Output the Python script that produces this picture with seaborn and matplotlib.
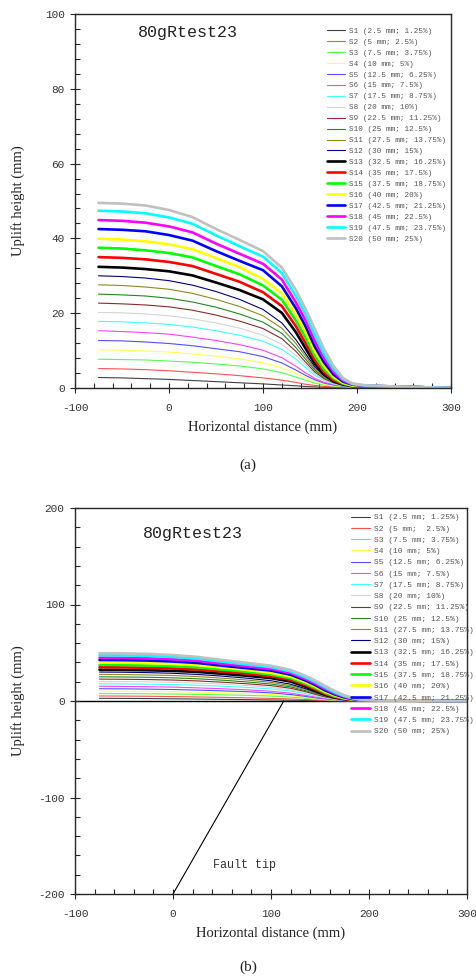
import matplotlib
matplotlib.use("Agg")
import matplotlib.pyplot as plt
from matplotlib.ticker import MultipleLocator
import seaborn as sns

# 量測位置 (mm)
x_pos = [-75, -50, -25, 0, 25, 50, 75, 100, 120, 135, 145, 155, 165, 175, 185, 195, 210, 240, 270, 300]

# 各階段抬升剖面 (mm)
s1 = [2.8, 2.7, 2.5, 2.3, 2.0, 1.7, 1.4, 1.1, 0.8, 0.6, 0.4, 0.3, 0.2, 0.2, 0.1, 0.1, 0.1, 0.1, 0.0, 0.0]
s2 = [5.2, 5.1, 4.9, 4.6, 4.2, 3.8, 3.3, 2.7, 2.1, 1.5, 1.0, 0.7, 0.4, 0.3, 0.2, 0.2, 0.2, 0.1, 0.1, 0.0]
s3 = [7.7, 7.6, 7.5, 7.2, 6.9, 6.4, 5.9, 5.1, 4.1, 2.9, 2.1, 1.3, 0.8, 0.5, 0.3, 0.2, 0.2, 0.1, 0.1, 0.0]
s4 = [10.2, 10.1, 9.9, 9.6, 9.1, 8.5, 7.8, 6.7, 5.4, 3.9, 2.8, 1.7, 1.0, 0.6, 0.4, 0.3, 0.3, 0.2, 0.1, 0.0]
s5 = [12.7, 12.6, 12.3, 11.9, 11.3, 10.5, 9.7, 8.4, 6.7, 4.8, 3.4, 2.2, 1.3, 0.8, 0.5, 0.4, 0.3, 0.2, 0.1, 0.0]
s6 = [15.3, 15.1, 14.8, 14.4, 13.6, 12.7, 11.6, 10.1, 8.1, 5.8, 4.1, 2.6, 1.5, 0.9, 0.6, 0.5, 0.4, 0.2, 0.1, 0.0]
s7 = [17.8, 17.7, 17.4, 17.0, 16.3, 15.3, 14.1, 12.5, 10.3, 7.7, 5.5, 3.4, 2.0, 1.1, 0.6, 0.4, 0.4, 0.2, 0.1, 0.0]
s8 = [20.2, 20.1, 19.8, 19.3, 18.5, 17.4, 16.0, 14.1, 11.7, 8.7, 6.3, 3.8, 2.2, 1.2, 0.7, 0.4, 0.4, 0.3, 0.1, 0.0]
s9 = [22.7, 22.5, 22.2, 21.7, 20.8, 19.5, 17.9, 15.9, 13.2, 9.8, 7.0, 4.3, 2.5, 1.4, 0.8, 0.5, 0.4, 0.3, 0.1, 0.0]
s10 = [25.1, 24.9, 24.6, 24.0, 23.0, 21.6, 19.8, 17.6, 14.6, 10.8, 7.8, 4.8, 2.8, 1.5, 0.9, 0.5, 0.5, 0.3, 0.1, 0.0]
s11 = [27.6, 27.4, 27.0, 26.4, 25.3, 23.7, 21.8, 19.3, 16.0, 11.9, 8.6, 5.2, 3.0, 1.7, 1.0, 0.6, 0.5, 0.3, 0.1, 0.0]
s12 = [30.0, 29.8, 29.4, 28.7, 27.5, 25.8, 23.7, 21.0, 17.4, 12.9, 9.3, 5.7, 3.3, 1.8, 1.1, 0.6, 0.5, 0.3, 0.2, 0.0]
s13 = [32.4, 32.2, 31.8, 31.2, 30.1, 28.2, 26.2, 23.7, 20.1, 14.9, 10.7, 6.5, 3.6, 1.8, 0.9, 0.5, 0.5, 0.3, 0.2, 0.0]
s14 = [35.0, 34.8, 34.4, 33.7, 32.6, 30.5, 28.4, 25.6, 21.9, 16.5, 12.1, 7.5, 4.2, 2.1, 1.1, 0.6, 0.5, 0.3, 0.2, 0.0]
s15 = [37.5, 37.3, 36.8, 36.1, 34.9, 32.6, 30.4, 27.4, 23.6, 18.0, 13.5, 8.6, 4.9, 2.6, 1.2, 0.6, 0.5, 0.3, 0.2, 0.0]
s16 = [39.9, 39.7, 39.2, 38.4, 37.1, 34.7, 32.3, 29.1, 25.3, 19.6, 15.0, 9.8, 5.8, 3.0, 1.4, 0.7, 0.6, 0.4, 0.2, 0.0]
s17 = [42.5, 42.3, 41.9, 40.9, 39.4, 36.6, 34.0, 31.5, 27.2, 21.3, 16.6, 11.1, 6.8, 3.6, 1.7, 0.9, 0.6, 0.4, 0.2, 0.0]
s18 = [44.9, 44.7, 44.2, 43.2, 41.6, 38.6, 35.9, 33.2, 29.0, 22.9, 18.2, 12.6, 7.9, 4.3, 2.0, 0.9, 0.6, 0.4, 0.2, 0.0]
s19 = [47.4, 47.2, 46.7, 45.6, 43.9, 40.8, 37.9, 35.1, 30.7, 24.6, 19.8, 14.2, 9.0, 5.0, 2.4, 1.1, 0.6, 0.4, 0.2, 0.0]
s20 = [49.5, 49.3, 48.8, 47.6, 45.7, 42.5, 39.6, 36.6, 32.2, 26.2, 21.3, 15.8, 10.4, 5.9, 2.7, 1.2, 0.7, 0.4, 0.2, 0.0]
profiles = [s1, s2, s3, s4, s5, s6, s7, s8, s9, s10, s11, s12, s13, s14, s15, s16, s17, s18, s19, s20]

labels_a = ["S1 (2.5 mm; 1.25%)", "S2 (5 mm; 2.5%)", "S3 (7.5 mm; 3.75%)", "S4 (10 mm; 5%)",
            "S5 (12.5 mm; 6.25%)", "S6 (15 mm; 7.5%)", "S7 (17.5 mm; 8.75%)", "S8 (20 mm; 10%)",
            "S9 (22.5 mm; 11.25%)", "S10 (25 mm; 12.5%)", "S11 (27.5 mm; 13.75%)", "S12 (30 mm; 15%)",
            "S13 (32.5 mm; 16.25%)", "S14 (35 mm; 17.5%)", "S15 (37.5 mm; 18.75%)", "S16 (40 mm; 20%)",
            "S17 (42.5 mm; 21.25%)", "S18 (45 mm; 22.5%)", "S19 (47.5 mm; 23.75%)", "S20 (50 mm; 25%)"]
labels_b = list(labels_a)
labels_b[1] = "S2 (5 mm;  2.5%)"

# 斷層線
fault_x = [0, 113]
fault_y = [-200, 0]

colors = ["#404040", "#ff5050", "#50ff50", "#ffff50", "#5050ff", "#ff40ff", "#40ffff", "#d4d4d4",
          "#8b2a2a", "#1e8b1e", "#8b8b1e", "#000080", "#000000", "#ff0000", "#00ff00", "#ffff00",
          "#0000ff", "#ff00ff", "#00ffff", "#c0c0c0"]
widths = [0.8] * 12 + [1.9] * 8

sns.set_style("ticks")
plt.rcParams["font.family"] = ["Liberation Mono", "DejaVu Sans Mono"]
plt.rcParams["axes.unicode_minus"] = False

fig = plt.figure(figsize=(4.77, 9.76), dpi=100)
ax_a = fig.add_axes([75 / 477, 588 / 976, 376 / 477, 374 / 976])
ax_b = fig.add_axes([75 / 477, 82 / 976, 392 / 477, 386 / 976])


def draw_profiles(ax, labels):
    for prof, lab, c, w in zip(profiles, labels, colors, widths):
        sns.lineplot(x=x_pos, y=prof, ax=ax, color=c, lw=w, label=lab, sort=False)


def style_axis(ax, ylim, ymajor, yminor, ylab_x, xlab_y):
    ax.set_xlim(-100, 300)
    ax.set_ylim(*ylim)
    ax.xaxis.set_major_locator(MultipleLocator(100))
    ax.xaxis.set_minor_locator(MultipleLocator(20))
    ax.yaxis.set_major_locator(MultipleLocator(ymajor))
    ax.yaxis.set_minor_locator(MultipleLocator(yminor))
    ax.tick_params(which="major", direction="inout", length=7, width=0.8, labelsize=8,
                   labelcolor="#333333", pad=4)
    ax.tick_params(axis="x", which="major", pad=7)
    ax.tick_params(which="minor", direction="in", length=3.5, width=0.8)
    for sp in ax.spines.values():
        sp.set_visible(True)
        sp.set_linewidth(1.0)
    ax.set_xlabel("Horizontal distance (mm)", family="Liberation Serif", fontsize=10.5,
                  color="#222222")
    ax.set_ylabel("Uplift height (mm)", family="Liberation Serif", fontsize=10.5,
                  color="#222222")
    ax.yaxis.set_label_coords(ylab_x, 0.5)
    ax.xaxis.set_label_coords(0.5, xlab_y)


# (a)
draw_profiles(ax_a, labels_a)
style_axis(ax_a, (0, 100), 20, 4, -0.133, -0.088)
ax_a.text(0.30, 0.95, "80gRtest23", transform=ax_a.transAxes, ha="center", va="center",
          fontsize=12, color="#222222")
ax_a.legend(loc="upper left", bbox_to_anchor=(0.67, 0.964), frameon=False, borderpad=0,
            borderaxespad=0, handlelength=2.4, handletextpad=0.5, labelspacing=0.47,
            prop={"family": "Liberation Mono", "size": 5.5}, labelcolor="#555555")

# (b)
draw_profiles(ax_b, labels_b)
ax_b.axhline(0, color="black", lw=1.0, zorder=0)
sns.lineplot(x=fault_x, y=fault_y, ax=ax_b, color="black", lw=0.8)
style_axis(ax_b, (-200, 200), 100, 20, -0.128, -0.083)
ax_b.text(0.30, 0.935, "80gRtest23", transform=ax_b.transAxes, ha="center", va="center",
          fontsize=12, color="#222222")
ax_b.text(73, -170, "Fault tip", ha="center", va="center", fontsize=8.5, color="#333333")
ax_b.legend(loc="upper left", bbox_to_anchor=(0.704, 0.985), frameon=False, borderpad=0,
            borderaxespad=0, handlelength=2.4, handletextpad=0.5, labelspacing=0.47,
            prop={"family": "Liberation Mono", "size": 5.7}, labelcolor="#555555")

fig.text(248 / 477, 1 - 465 / 976, "(a)", ha="center", va="center", family="Liberation Serif",
         fontsize=11, color="#222222")
fig.text(248 / 477, 1 - 967 / 976, "(b)", ha="center", va="center", family="Liberation Serif",
         fontsize=11, color="#222222")

fig.savefig("out.png", dpi=100)
